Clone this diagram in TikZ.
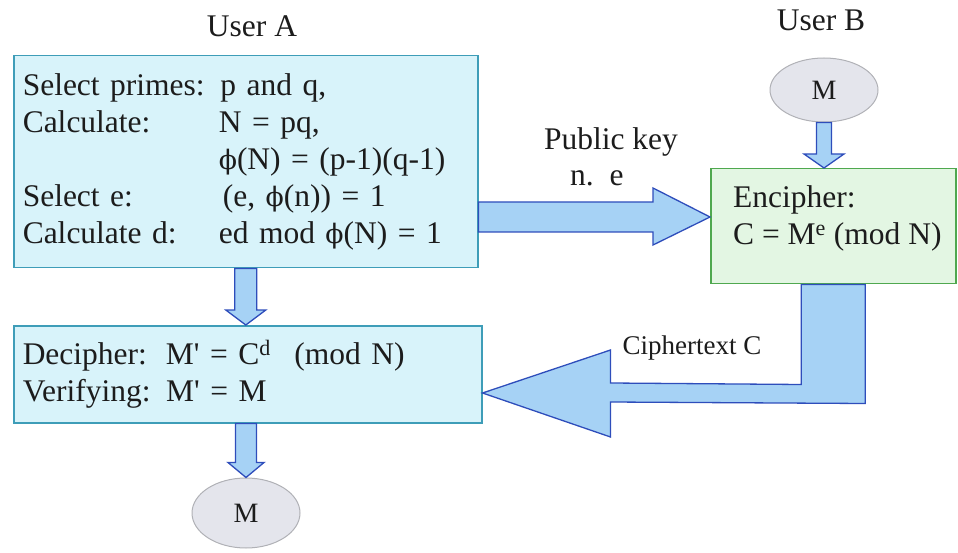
\documentclass[tikz,border=0pt]{standalone}
\usepackage{fontspec}
\setmainfont{Liberation Serif}
\newfontfamily\phifont{DejaVu Serif}[Scale=0.85]
\usetikzlibrary{calc,shapes.geometric}

\definecolor{boxafill}{HTML}{D8F3FA}
\definecolor{boxaline}{HTML}{3E9DB8}
\definecolor{boxbfill}{HTML}{E3F6E3}
\definecolor{boxbline}{HTML}{4FA84F}
\definecolor{arrowfill}{HTML}{A6D2F5}
\definecolor{arrowline}{HTML}{2E4DBB}
\definecolor{ellfill}{HTML}{E4E5EC}
\definecolor{ellline}{HTML}{B0B1B6}
\definecolor{txt}{HTML}{1C1C1C}

\newcommand{\phisym}{{\phifont ϕ}}
\newcommand{\lcol}[1]{\makebox[196pt][l]{#1}}

\tikzset{
  bigtext/.style={font=\fontsize{31.5}{37}\selectfont, text=txt},
  boxa/.style={bigtext, draw=boxaline, fill=boxafill, line width=1.5pt,
    inner xsep=9pt, inner ysep=0pt, align=left, anchor=north west},
  boxb/.style={draw=boxbline, fill=boxbfill, line width=1.5pt,
    minimum width=245pt, minimum height=115pt, anchor=north west},
  msg/.style={ellipse, draw=ellline, fill=ellfill, line width=1pt,
    minimum width=108pt, minimum height=64pt, inner sep=0pt,
    font=\fontsize{28}{30}\selectfont, text=txt},
  blockarrow/.style={draw=arrowline, fill=arrowfill, line width=1.3pt, line join=miter},
}

% block arrow pointing down: start, tip, shaft half width, head half width, head length
\newcommand{\downblock}[5]{%
  \draw[blockarrow] ($(#1)+(-#3,0)$) -- ($(#2)+(-#3,-#5)$) -- ($(#2)+(-#4,-#5)$)
    -- (#2) -- ($(#2)+(#4,-#5)$) -- ($(#2)+(#3,-#5)$) -- ($(#1)+(#3,0)$) -- cycle;}

\begin{document}
\begin{tikzpicture}[x=1pt, y=-1pt]
  \useasboundingbox (0,0) rectangle (958,553);
  % Boxes:
  \node[boxa, text width=446pt, minimum height=212pt] (boxA) at (13,55) {%
    Select primes: p and q,\\
    \lcol{Calculate:}N = pq,\\
    \lcol{}\phisym(N) = (p-1)(q-1)\\
    \lcol{Select e:}\hspace{4pt}(e, \phisym(n)) = 1\\
    \lcol{Calculate d:}ed mod \phisym(N) = 1};
  \node[boxb] (boxB) at (710,168) {};
  \node[bigtext, anchor=west, align=left, inner sep=0pt] (enc) at (733,218) {%
    Encipher:\\ C = M\textsuperscript{e} (mod N)};
  \node[boxa, text width=450pt, minimum height=97pt] (boxC) at (13,325) {%
    Decipher:\hspace{0.6em}M\textquotesingle{} = C\textsuperscript{d}\hspace{0.75em}(mod N)\\
    Verifying: M\textquotesingle{} = M};
  \node[msg] (mB) at (824,90) {M};
  \node[msg, minimum height=70pt] (mA) at (246,513) {M};
  % Connectors:
  \coordinate (acE) at (boxA.south |- boxC.north);
  \coordinate (mbE) at (mB.south |- boxB.north);
  \coordinate (cmS) at (mA.north |- boxC.south);
  \coordinate (pkS) at (boxA.east |- 0,217);
  \coordinate (pkE) at (boxB.west |- 0,217);
  \coordinate (ctS) at (boxB.south);
  \coordinate (ctE) at (boxC.east |- 0,393);
  \downblock{boxA.south}{acE}{11}{20}{15}
  \downblock{mB.south}{mbE}{7.5}{20}{14}
  \downblock{cmS}{mA.north}{10.5}{18}{15}
  \draw[blockarrow] ($(pkS)+(0,-15)$) -- ($(pkE)+(-57,-15)$) -- ($(pkE)+(-57,-29)$)
    -- (pkE) -- ($(pkE)+(-57,28)$) -- ($(pkE)+(-57,15)$) -- ($(pkS)+(0,15)$) -- cycle;
  \draw[blockarrow] ($(ctS)+(-32,0)$) -- ($(ctS)+(-32,100)$) -- ($(ctE)+(128,-10)$)
    -- ($(ctE)+(128,-43)$) -- (ctE) -- ($(ctE)+(128,44)$) -- ($(ctE)+(128,9)$)
    -- ($(ctS)+(32,119)$) -- ($(ctS)+(32,0)$) -- cycle;
  % Labels:
  \node[bigtext] (userA) at (252,26) {User A};
  \node[bigtext] (userB) at (821,20) {User B};
  \node[bigtext] (pubkey) at (611,142) {Public key};
  \node[bigtext, anchor=west, inner sep=0pt] (pubval) at (570,178) {n.\enspace e};
  \node[font=\fontsize{27}{30}\selectfont, text=txt] (ciph) at (692,348) {Ciphertext C};
\end{tikzpicture}
\end{document}
